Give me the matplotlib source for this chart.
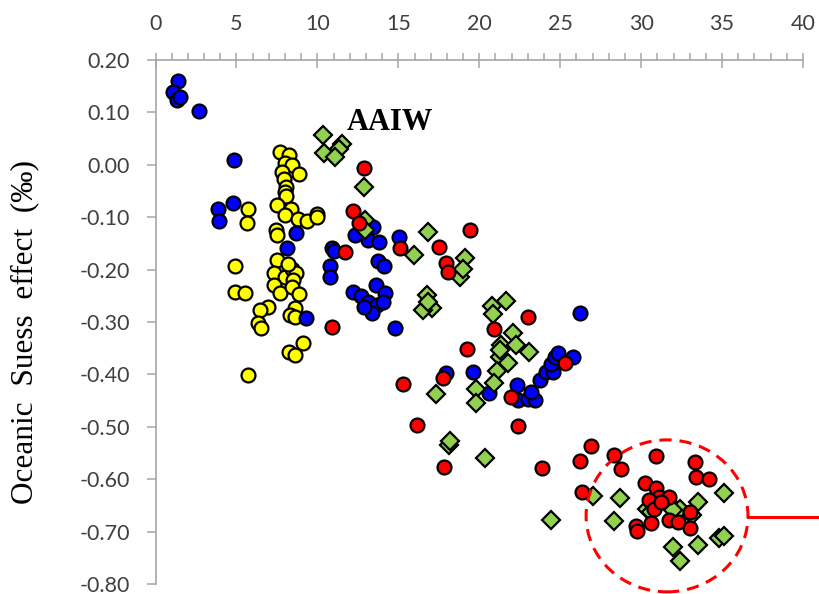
import matplotlib
matplotlib.use('Agg')
import matplotlib.pyplot as plt
from matplotlib.patches import Ellipse
from matplotlib.ticker import MultipleLocator, FuncFormatter


# 讀圖估計的數值 (x, 效應值)
yellow_x = [7.69, 8.26, 7.99, 8.40, 7.79, 8.88, 7.95, 8.06, 7.99, 8.06, 7.52, 8.34, 7.99, 8.82, 9.33,
            9.99, 9.99, 5.73, 5.63, 7.44, 7.52, 4.91, 7.52, 7.31, 7.99, 8.41, 8.67, 8.20, 8.50, 7.31,
            7.69, 8.41, 8.88, 4.91, 5.52, 6.96, 6.45, 6.35, 6.49, 8.61, 8.30, 8.61, 9.08, 8.26, 8.61,
            5.73]
yellow_y = [0.025, 0.019, 0.004, 0.000, -0.013, -0.018, -0.028, -0.042, -0.051, -0.060, -0.077, -0.085,
            -0.096, -0.104, -0.108, -0.094, -0.100, -0.085, -0.112, -0.124, -0.134, -0.194, -0.182,
            -0.206, -0.214, -0.198, -0.206, -0.190, -0.220, -0.229, -0.245, -0.233, -0.247, -0.242,
            -0.245, -0.271, -0.277, -0.302, -0.312, -0.274, -0.287, -0.290, -0.341, -0.357, -0.363,
            -0.401]

blue_x = [1.41, 1.06, 1.31, 1.50, 2.69, 4.85, 4.76, 3.88, 3.94, 8.67, 8.10, 9.30, 10.90, 11.00, 10.80,
          10.75, 12.30, 13.10, 13.80, 13.45, 13.75, 14.10, 15.05, 12.20, 12.70, 13.65, 14.15, 13.15,
          13.70, 13.35, 12.85, 14.05, 14.80, 26.20, 19.60, 17.95, 20.60, 22.30, 22.40, 23.00, 23.45,
          23.20, 23.75, 24.15, 24.55, 24.45, 24.65, 24.85, 25.80]
blue_y = [0.159, 0.138, 0.124, 0.129, 0.103, 0.009, -0.073, -0.085, -0.108, -0.131, -0.158, -0.293,
          -0.158, -0.165, -0.194, -0.214, -0.134, -0.143, -0.147, -0.118, -0.184, -0.193, -0.138,
          -0.242, -0.250, -0.229, -0.245, -0.261, -0.268, -0.282, -0.271, -0.261, -0.312, -0.282,
          -0.395, -0.397, -0.436, -0.420, -0.449, -0.446, -0.449, -0.433, -0.411, -0.395, -0.395,
          -0.380, -0.366, -0.360, -0.366]

green_x = [10.32, 11.49, 11.35, 10.40, 11.08, 12.89, 12.93, 12.93, 16.84, 15.96, 19.10, 18.80, 19.00,
           16.74, 17.05, 16.53, 16.85, 20.81, 21.64, 20.85, 22.09, 21.37, 22.25, 23.07, 21.27, 21.78,
           21.10, 20.90, 19.78, 19.78, 17.32, 21.27, 18.14, 18.18, 20.34, 24.46, 27.03, 28.70, 28.30,
           30.36, 31.86, 32.38, 33.50, 33.16, 35.10, 34.80, 35.10, 33.50, 31.96, 32.38, 31.96, 30.60]
green_y = [0.057, 0.039, 0.030, 0.023, 0.014, -0.042, -0.105, -0.124, -0.128, -0.172, -0.177, -0.214,
           -0.198, -0.248, -0.274, -0.277, -0.262, -0.270, -0.259, -0.285, -0.321, -0.344, -0.344,
           -0.357, -0.366, -0.378, -0.393, -0.417, -0.427, -0.454, -0.437, -0.353, -0.535, -0.528,
           -0.560, -0.678, -0.632, -0.635, -0.679, -0.656, -0.649, -0.656, -0.643, -0.668, -0.627,
           -0.713, -0.708, -0.726, -0.729, -0.757, -0.659, -0.662]

red_x = [12.89, 12.17, 12.58, 11.70, 15.09, 19.41, 17.52, 17.93, 18.07, 10.91, 23.01, 20.90, 19.27,
         17.73, 15.26, 25.28, 21.93, 16.16, 22.40, 17.83, 23.90, 26.93, 26.20, 26.37, 28.30, 28.78,
         30.94, 33.30, 33.36, 34.19, 30.22, 30.94, 31.10, 31.72, 30.48, 30.77, 31.25, 33.00, 30.63,
         31.72, 32.27, 33.00, 29.66, 29.74]
red_y = [-0.007, -0.088, -0.112, -0.167, -0.159, -0.124, -0.156, -0.187, -0.204, -0.309, -0.291,
         -0.314, -0.352, -0.406, -0.418, -0.379, -0.444, -0.497, -0.498, -0.577, -0.579, -0.537,
         -0.565, -0.624, -0.554, -0.581, -0.556, -0.568, -0.596, -0.600, -0.607, -0.617, -0.633,
         -0.633, -0.640, -0.656, -0.643, -0.662, -0.684, -0.678, -0.681, -0.694, -0.689, -0.698]

x_ticks = [0, 5, 10, 15, 20, 25, 30, 35, 40]
y_ticks = [-0.8, -0.7, -0.6, -0.5, -0.4, -0.3, -0.2, -0.1, 0.0, 0.1, 0.2]

axis_gray = '#a6a6a6'
label_gray = '#404040'

fig = plt.figure(figsize=(8.19, 5.94), dpi=100)
ax = fig.add_axes([0.1899, 0.0168, 0.7906, 0.8822])

ax.plot(yellow_x, yellow_y, 'o', ms=10, mfc='#ffff00', mec='black', mew=1.6, zorder=2)
ax.plot(blue_x, blue_y, 'o', ms=10, mfc='#0000ff', mec='black', mew=1.6, zorder=3)
ax.plot(green_x, green_y, 'D', ms=9.3, mfc='#92d050', mec='black', mew=1.6, zorder=4)
ax.plot(red_x, red_y, 'o', ms=10, mfc='#ff0000', mec='black', mew=1.6, zorder=5)

# 紅色虛線圈與右側短線
ell = Ellipse((31.6, -0.670), 10.0, 0.29, fill=False, ec='#ff0000', lw=2.2,
              ls=(0, (4, 2.6)), clip_on=False, zorder=6)
ax.add_patch(ell)
ax.plot([36.63, 41.0], [-0.673, -0.673], color='#ff0000', lw=2.2, clip_on=False, zorder=6)

ax.text(11.82, 0.066, 'AAIW', fontfamily='Liberation Serif', fontweight='bold', fontsize=22,
        va='baseline', ha='left')

ax.set_xlim(0, 40)
ax.set_ylim(-0.8, 0.2)
ax.xaxis.tick_top()
ax.set_xticks(x_ticks)
ax.xaxis.set_minor_locator(MultipleLocator(1))
ax.set_yticks(y_ticks)
ax.yaxis.set_major_formatter(FuncFormatter(lambda v, p: f"{v:.2f}"))

for s in ['right', 'bottom']:
    ax.spines[s].set_visible(False)
for s in ['left', 'top']:
    ax.spines[s].set_color(axis_gray)
    ax.spines[s].set_linewidth(1.2)

ax.tick_params(axis='x', which='major', direction='inout', length=10.8, width=1.1,
               color=axis_gray, pad=13, labelsize=15.5, labelcolor=label_gray)
ax.tick_params(axis='x', which='minor', direction='out', length=5, width=1.1, color=axis_gray)
ax.tick_params(axis='y', which='major', direction='out', length=6.5, width=1.1,
               color=axis_gray, pad=12, labelsize=15.5, labelcolor=label_gray)
for lbl in ax.get_xticklabels() + ax.get_yticklabels():
    lbl.set_fontfamily('Lato')

fig.text(25 / 819, 1 - 332 / 594, 'Oceanic  Suess  effect  (‰)', rotation=90,
         ha='center', va='center', fontfamily='Liberation Serif', fontsize=22.5)

fig.savefig('out.png', dpi=100)
